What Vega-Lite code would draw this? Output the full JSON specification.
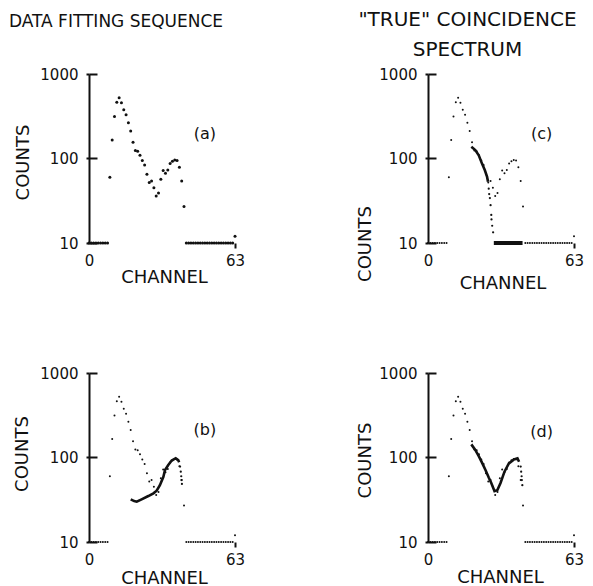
{
  "$schema": "https://vega.github.io/schema/vega-lite/v6.json",
  "autosize": {"type": "none"},
  "padding": {"left": 89, "top": 74, "right": 504, "bottom": 512},
  "background": "white",
  "datasets": {
    "spectrum": [
      {"ch": 0, "counts": 10}, {"ch": 1, "counts": 10}, {"ch": 2, "counts": 10}, {"ch": 3, "counts": 10},
      {"ch": 4, "counts": 10}, {"ch": 5, "counts": 10}, {"ch": 6, "counts": 10}, {"ch": 7, "counts": 10},
      {"ch": 8, "counts": 10}, {"ch": 9, "counts": 60}, {"ch": 10, "counts": 166}, {"ch": 11, "counts": 315},
      {"ch": 12, "counts": 464}, {"ch": 13, "counts": 523}, {"ch": 14, "counts": 457}, {"ch": 15, "counts": 378},
      {"ch": 16, "counts": 330}, {"ch": 17, "counts": 265}, {"ch": 18, "counts": 211}, {"ch": 19, "counts": 156},
      {"ch": 20, "counts": 124}, {"ch": 21, "counts": 122}, {"ch": 22, "counts": 109}, {"ch": 23, "counts": 95},
      {"ch": 24, "counts": 84}, {"ch": 25, "counts": 65}, {"ch": 26, "counts": 52}, {"ch": 27, "counts": 54},
      {"ch": 28, "counts": 45}, {"ch": 29, "counts": 36}, {"ch": 30, "counts": 39}, {"ch": 31, "counts": 57},
      {"ch": 32, "counts": 72}, {"ch": 33, "counts": 67}, {"ch": 34, "counts": 73}, {"ch": 35, "counts": 87},
      {"ch": 36, "counts": 93}, {"ch": 37, "counts": 96}, {"ch": 38, "counts": 95}, {"ch": 39, "counts": 79},
      {"ch": 40, "counts": 54}, {"ch": 41, "counts": 27}, {"ch": 42, "counts": 10}, {"ch": 43, "counts": 10},
      {"ch": 44, "counts": 10}, {"ch": 45, "counts": 10}, {"ch": 46, "counts": 10}, {"ch": 47, "counts": 10},
      {"ch": 48, "counts": 10}, {"ch": 49, "counts": 10}, {"ch": 50, "counts": 10}, {"ch": 51, "counts": 10},
      {"ch": 52, "counts": 10}, {"ch": 53, "counts": 10}, {"ch": 54, "counts": 10}, {"ch": 55, "counts": 10},
      {"ch": 56, "counts": 10}, {"ch": 57, "counts": 10}, {"ch": 58, "counts": 10}, {"ch": 59, "counts": 10},
      {"ch": 60, "counts": 10}, {"ch": 61, "counts": 10}, {"ch": 62, "counts": 10}, {"ch": 63, "counts": 12}
    ],
    "fitB_line": [
      {"ch": 18.0, "counts": 32}, {"ch": 19.5, "counts": 30.5}, {"ch": 20.6, "counts": 30}, {"ch": 22.7, "counts": 32},
      {"ch": 25.6, "counts": 35}, {"ch": 27.8, "counts": 37.7}, {"ch": 29.2, "counts": 40.5}, {"ch": 30.6, "counts": 47},
      {"ch": 32.1, "counts": 59}, {"ch": 32.8, "counts": 71}, {"ch": 34.2, "counts": 81.5}, {"ch": 35.7, "counts": 92},
      {"ch": 37.4, "counts": 98}, {"ch": 38.5, "counts": 93}, {"ch": 38.9, "counts": 88}
    ],
    "fitB_dots": [
      {"ch": 39.3, "counts": 78}, {"ch": 39.6, "counts": 68}, {"ch": 39.8, "counts": 60},
      {"ch": 39.9, "counts": 54}, {"ch": 40.1, "counts": 48.6}
    ],
    "fitC_line": [
      {"ch": 18.7, "counts": 138}, {"ch": 20.4, "counts": 126}, {"ch": 21.9, "counts": 109}, {"ch": 23.3, "counts": 87},
      {"ch": 24.5, "counts": 73}, {"ch": 25.5, "counts": 60.5}, {"ch": 25.9, "counts": 53}
    ],
    "fitC_dots": [
      {"ch": 26.2, "counts": 44}, {"ch": 26.4, "counts": 38}, {"ch": 26.7, "counts": 34}, {"ch": 27.0, "counts": 28},
      {"ch": 27.3, "counts": 21.5}, {"ch": 27.4, "counts": 19}, {"ch": 27.7, "counts": 16}, {"ch": 28.1, "counts": 13.4}
    ],
    "fitC_floor": [
      {"ch": 28.4, "counts": 10}, {"ch": 40.8, "counts": 10}
    ],
    "fitD_line": [
      {"ch": 18.7, "counts": 143}, {"ch": 20.4, "counts": 123}, {"ch": 21.9, "counts": 104}, {"ch": 23.3, "counts": 87},
      {"ch": 24.8, "counts": 71}, {"ch": 26.2, "counts": 58}, {"ch": 27.3, "counts": 50}, {"ch": 28.7, "counts": 40},
      {"ch": 29.9, "counts": 41}, {"ch": 31.3, "counts": 50}, {"ch": 33.0, "counts": 68}, {"ch": 34.9, "counts": 85},
      {"ch": 37.1, "counts": 95}, {"ch": 38.6, "counts": 98}, {"ch": 39.3, "counts": 89}
    ],
    "fitD_dots": [
      {"ch": 40.0, "counts": 78}, {"ch": 40.2, "counts": 68}, {"ch": 40.4, "counts": 60},
      {"ch": 40.5, "counts": 54}, {"ch": 40.7, "counts": 47}
    ]
  },
  "columns": 2,
  "spacing": {"row": 130, "column": 193},
  "bounds": "flush",
  "concat": [
    {
      "width": 146, "height": 169,
      "title": {"text": "DATA FITTING SEQUENCE", "anchor": "middle", "dx": -46, "offset": 36, "fontSize": 17},
      "encoding": {
        "x": {"field": "ch", "type": "quantitative", "scale": {"domain": [0, 63], "nice": false, "zero": false},
              "axis": {"values": [0, 63], "title": "CHANNEL", "titleX": 75, "titleY": 39.5, "tickOpacity": {"expr": "datum.value == 0 ? 0 : 1"}}},
        "y": {"field": "counts", "type": "quantitative", "scale": {"type": "log", "domain": [10, 1000], "nice": false},
              "axis": {"values": [10, 100, 1000], "title": "COUNTS", "titleX": -61, "titleY": 88}}
      },
      "layer": [
        {"data": {"name": "spectrum"}, "mark": {"type": "circle", "size": 9, "opacity": 1, "color": "#111"}},
        {"data": {"values": [{"ch": 50, "counts": 195, "tag": "(a)"}]},
         "mark": {"type": "text", "fontSize": 16, "font": "DejaVu Sans", "color": "#111"},
         "encoding": {"text": {"field": "tag"}}}
      ]
    },
    {
      "width": 146, "height": 169,
      "title": {"text": ["\"TRUE\" COINCIDENCE", "SPECTRUM"], "anchor": "middle", "dx": -33.5, "offset": 7, "fontSize": 20, "lineHeight": 30},
      "encoding": {
        "x": {"field": "ch", "type": "quantitative", "scale": {"domain": [0, 63], "nice": false, "zero": false},
              "axis": {"values": [0, 63], "title": "CHANNEL", "titleX": 74.5, "titleY": 45.5, "tickOpacity": {"expr": "datum.value == 0 ? 0 : 1"}}},
        "y": {"field": "counts", "type": "quantitative", "scale": {"type": "log", "domain": [10, 1000], "nice": false},
              "axis": {"values": [10, 100, 1000], "title": "COUNTS", "titleX": -58, "titleY": 169.5}}
      },
      "layer": [
        {"data": {"name": "spectrum"}, "mark": {"type": "circle", "size": 4, "opacity": 1, "color": "#111"}},
        {"data": {"name": "fitC_line"}, "mark": {"type": "line", "strokeWidth": 2.6, "color": "#111"}},
        {"data": {"name": "fitC_dots"}, "mark": {"type": "circle", "size": 5, "opacity": 1, "color": "#111"}},
        {"data": {"name": "fitC_floor"}, "mark": {"type": "line", "strokeWidth": 4, "color": "#111"}},
        {"data": {"values": [{"ch": 49, "counts": 193, "tag": "(c)"}]},
         "mark": {"type": "text", "fontSize": 16, "font": "DejaVu Sans", "color": "#111"},
         "encoding": {"text": {"field": "tag"}}}
      ]
    },
    {
      "width": 146, "height": 169,
      "encoding": {
        "x": {"field": "ch", "type": "quantitative", "scale": {"domain": [0, 63], "nice": false, "zero": false},
              "axis": {"values": [0, 63], "title": "CHANNEL", "titleX": 75, "titleY": 41, "tickOpacity": {"expr": "datum.value == 0 ? 0 : 1"}}},
        "y": {"field": "counts", "type": "quantitative", "scale": {"type": "log", "domain": [10, 1000], "nice": false},
              "axis": {"values": [10, 100, 1000], "title": "COUNTS", "titleX": -62, "titleY": 80.5}}
      },
      "layer": [
        {"data": {"name": "spectrum"}, "mark": {"type": "circle", "size": 4, "opacity": 1, "color": "#111"}},
        {"data": {"name": "fitB_line"}, "mark": {"type": "line", "strokeWidth": 2.6, "color": "#111"}},
        {"data": {"name": "fitB_dots"}, "mark": {"type": "circle", "size": 5, "opacity": 1, "color": "#111"}},
        {"data": {"values": [{"ch": 50, "counts": 211, "tag": "(b)"}]},
         "mark": {"type": "text", "fontSize": 16, "font": "DejaVu Sans", "color": "#111"},
         "encoding": {"text": {"field": "tag"}}}
      ]
    },
    {
      "width": 146, "height": 169,
      "encoding": {
        "x": {"field": "ch", "type": "quantitative", "scale": {"domain": [0, 63], "nice": false, "zero": false},
              "axis": {"values": [0, 63], "title": "CHANNEL", "titleX": 72, "titleY": 40.5, "tickOpacity": {"expr": "datum.value == 0 ? 0 : 1"}}},
        "y": {"field": "counts", "type": "quantitative", "scale": {"type": "log", "domain": [10, 1000], "nice": false},
              "axis": {"values": [10, 100, 1000], "title": "COUNTS", "titleX": -58, "titleY": 87}}
      },
      "layer": [
        {"data": {"name": "spectrum"}, "mark": {"type": "circle", "size": 4, "opacity": 1, "color": "#111"}},
        {"data": {"name": "fitD_line"}, "mark": {"type": "line", "strokeWidth": 2.6, "color": "#111"}},
        {"data": {"name": "fitD_dots"}, "mark": {"type": "circle", "size": 5, "opacity": 1, "color": "#111"}},
        {"data": {"values": [{"ch": 49, "counts": 200, "tag": "(d)"}]},
         "mark": {"type": "text", "fontSize": 16, "font": "DejaVu Sans", "color": "#111"},
         "encoding": {"text": {"field": "tag"}}}
      ]
    }
  ],
  "config": {
    "view": {"stroke": null},
    "font": "DejaVu Sans",
    "title": {"font": "DejaVu Sans", "fontWeight": "normal", "color": "#111", "frame": "group"},
    "axis": {
      "grid": false,
      "domainColor": "#111", "domainWidth": 2,
      "tickColor": "#111", "tickWidth": 2,
      "labelFont": "DejaVu Sans", "labelFontSize": 15, "labelColor": "#111",
      "titleFont": "DejaVu Sans", "titleFontSize": 18, "titleFontWeight": "normal", "titleColor": "#111",
      "titleBaseline": "alphabetic", "titleAlign": "center"
    },
    "axisX": {"domain": false, "tickSize": 5, "labelPadding": 17.5, "labelBaseline": "alphabetic", "labelFlush": false},
    "axisY": {"format": "d", "tickSize": 3, "labelPadding": 8, "titleAngle": 270,
              "grid": true, "gridColor": "#111", "gridWidth": 2, "gridOpacity": 1, "gridDash": [8, 400]}
  }
}
